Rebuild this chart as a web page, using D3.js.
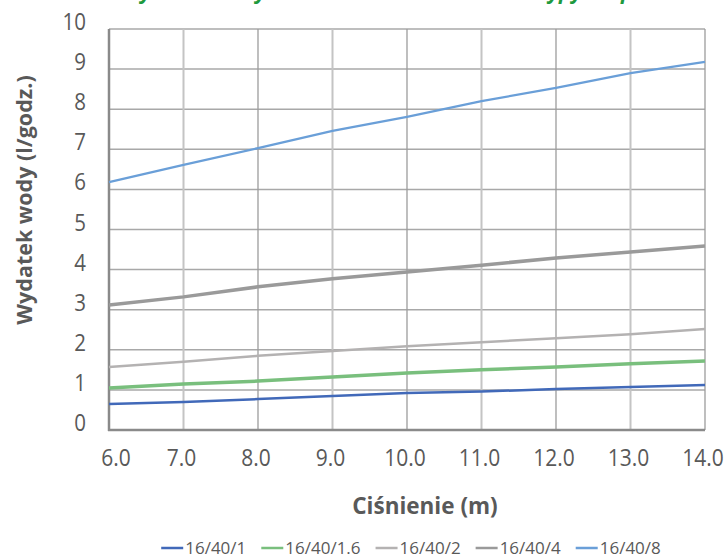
<!DOCTYPE html>
<html>
<head>
<meta charset="utf-8">
<script src="https://cdn.jsdelivr.net/npm/d3@7"></script>
<style>
  html, body { margin: 0; padding: 0; background: #fff; }
  svg { display: block; font-family: "Open Sans", "Noto Sans", sans-serif; }
</style>
</head>
<body>
<svg id="chart" width="728" height="560"></svg>
<script>
// ---- data ----
const pressure = [6, 7, 8, 9, 10, 11, 12, 13, 14];
const seriesNames = ["16/40/1", "16/40/1.6", "16/40/2", "16/40/4", "16/40/8"];
const s_16_40_1   = [0.65, 0.70, 0.77, 0.85, 0.92, 0.96, 1.02, 1.07, 1.12];
const s_16_40_1_6 = [1.05, 1.15, 1.22, 1.32, 1.42, 1.50, 1.57, 1.65, 1.72];
const s_16_40_2   = [1.57, 1.70, 1.85, 1.97, 2.09, 2.19, 2.29, 2.39, 2.52];
const s_16_40_4   = [3.12, 3.32, 3.57, 3.77, 3.94, 4.11, 4.29, 4.44, 4.59];
const s_16_40_8   = [6.18, 6.61, 7.03, 7.46, 7.81, 8.20, 8.53, 8.90, 9.18];
const xTicks = [6, 7, 8, 9, 10, 11, 12, 13, 14];
const yTicks = [0, 1, 2, 3, 4, 5, 6, 7, 8, 9, 10];
const titleText = "Wydatek wody w zależności od ciśnienia – typy kroplowników";
const xTitle = "Ciśnienie (m)";
const yTitle = "Wydatek wody (l/godz.)";

const seriesValues = [s_16_40_1, s_16_40_1_6, s_16_40_2, s_16_40_4, s_16_40_8];
const colors = ["#4169b9", "#79bf7d", "#b4b2b2", "#9a9a9a", "#6a9fd8"];
const widths = [2.5, 3.5, 2.5, 3.5, 2.2];

const svg = d3.select("#chart");
const L = 109, R = 705, T = 29, B = 430;
const x = d3.scaleLinear().domain([6, 14]).range([L, R]);
const y = d3.scaleLinear().domain([0, 10]).range([B, T]);

// title (mostly cut off at top, as in the reference)
svg.append("text")
  .attr("x", 425).attr("y", -1)
  .attr("text-anchor", "middle")
  .attr("font-size", 21).attr("font-weight", "bold").attr("font-style", "italic")
  .attr("fill", "#1e9a3e")
  .text(titleText);

// grid
const g = svg.append("g");
g.selectAll(".hg").data(yTicks).join("line")
  .attr("x1", L).attr("x2", R)
  .attr("y1", d => y(d)).attr("y2", d => y(d))
  .attr("stroke", "#a8a8a8").attr("stroke-width", 1.5);
g.selectAll(".vg").data(xTicks).join("line")
  .attr("x1", d => x(d)).attr("x2", d => x(d))
  .attr("y1", T).attr("y2", B)
  .attr("stroke", (d, i) => i % 2 ? "#c4c4c4" : "#9c9c9c")
  .attr("stroke-width", (d, i) => i % 2 ? 2 : 1.3);

// axis lines
svg.append("line").attr("x1", L).attr("x2", L).attr("y1", T).attr("y2", B + 1)
  .attr("stroke", "#8a8a8a").attr("stroke-width", 2.5);
svg.append("line").attr("x1", L - 1).attr("x2", R).attr("y1", B).attr("y2", B)
  .attr("stroke", "#8a8a8a").attr("stroke-width", 2.5);

// tick labels (slightly tall glyphs as in the reference)
svg.selectAll(".yl").data(yTicks).join("text")
  .attr("transform", d => `translate(86,${y(d) + 1}) scale(1,1.15)`)
  .attr("text-anchor", "end")
  .attr("font-size", 20.5).attr("fill", "#595959")
  .text(d => d);
svg.selectAll(".xl").data(xTicks).join("text")
  .attr("transform", d => `translate(${x(d) + (d === 6 ? 7 : -2)},466) scale(1,1.15)`)
  .attr("text-anchor", "middle")
  .attr("font-size", 21).attr("fill", "#595959")
  .text(d => d.toFixed(1));

// axis titles
svg.append("text")
  .attr("transform", "translate(32,200) rotate(-90)")
  .attr("text-anchor", "middle")
  .attr("font-size", 21.5).attr("font-weight", "bold").attr("fill", "#595959")
  .text(yTitle);
svg.append("text")
  .attr("x", 425).attr("y", 514)
  .attr("text-anchor", "middle")
  .attr("font-size", 22.5).attr("font-weight", "bold").attr("fill", "#595959")
  .text(xTitle);

// lines
const line = d3.line().x((d, i) => x(pressure[i])).y(d => y(d));
svg.selectAll(".series").data(seriesValues).join("path")
  .attr("d", d => line(d))
  .attr("fill", "none")
  .attr("stroke", (d, i) => colors[i])
  .attr("stroke-width", (d, i) => widths[i]);

// legend: laid out by measured text widths, centred under the plot
const lg = svg.append("g");
const items = seriesNames.map((name, i) => {
  const gi = lg.append("g");
  gi.append("line")
    .attr("x1", 0).attr("x2", 22)
    .attr("y1", 0).attr("y2", 0)
    .attr("stroke", colors[i]).attr("stroke-width", 2.5);
  const t = gi.append("text")
    .attr("x", 24).attr("y", 5.5)
    .attr("font-size", 17).attr("fill", "#595959")
    .text(name);
  return { gi, w: 24 + t.node().getComputedTextLength() };
});
const gap = 15;
const total = d3.sum(items, d => d.w) + gap * (items.length - 1);
let cx = 411 - total / 2;
items.forEach(it => {
  it.gi.attr("transform", `translate(${cx},548)`);
  cx += it.w + gap;
});
</script>
</body>
</html>
